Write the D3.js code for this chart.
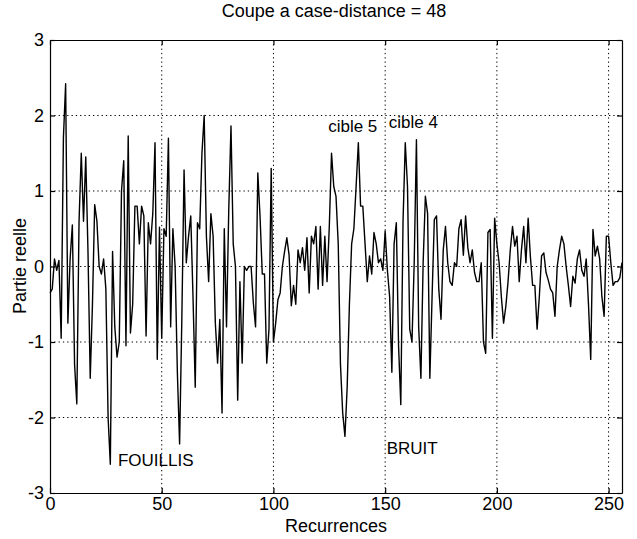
<!DOCTYPE html>
<html>
<head>
<meta charset="utf-8">
<script src="https://cdn.jsdelivr.net/npm/d3@7"></script>
<style>
  body { margin: 0; background: #fff; }
  text { font-family: "Liberation Sans", Arial, Helvetica, sans-serif; fill: #000; }
</style>
</head>
<body>
<svg id="chart" width="637" height="539"></svg>
<script>
const title = "Coupe a case-distance = 48";
const xLabel = "Recurrences";
const yLabel = "Partie reelle";
const xTicks = [0, 50, 100, 150, 200, 250];
const yTicks = [-3, -2, -1, 0, 1, 2, 3];
const annotations = [
  { text: "cible 5", x: 124.5, y: 1.84 },
  { text: "cible 4", x: 151.6, y: 1.9 },
  { text: "FOUILLIS", x: 30.4, y: -2.58 },
  { text: "BRUIT", x: 150.7, y: -2.42 }
];
const values = [
  -0.35, -0.3, 0.1, -0.05, 0.08, -0.95, 1.7, 2.42, -0.75, 0.1,
  0.55, -1.3, -1.82, 0.6, 1.5, 0.6, 1.45, 0.2, -1.48, -0.5,
  0.82, 0.6, 0.0, -0.1, 0.1, -0.3, -2.0, -2.62, 0.2, -0.8,
  -1.2, -1.0, 1.0, 1.4, -1.05, 1.73, -0.88, -0.5, 0.8, 0.8,
  0.3, 0.8, 0.67, -0.92, 0.58, 0.3, 0.7, 1.64, -1.23, 0.52,
  -0.95, 0.5, 0.4, 1.7, -0.8, 0.5, 0.0, -1.4, -2.35, -0.7,
  1.28, 0.05, 0.4, 0.67, -0.4, -1.6, 0.58, 0.5, 1.5, 2.0,
  0.4, -0.2, 0.7, 0.4, -0.75, -1.28, -0.7, -1.94, 0.5, -0.8,
  0.75, 1.86, 0.3, 0.0, -1.77, -0.2, -1.28, 0.0, -0.05, 0.0,
  0.0, -0.48, -0.8, 1.24, 0.67, -0.1, -0.1, -1.28, -0.83, 1.3,
  -1.0, -0.75, -0.44, -0.35, 0.0, 0.2, 0.38, 0.15, -0.52, -0.25,
  -0.5, 0.22, 0.05, 0.25, -0.05, 0.38, -0.35, 0.4, 0.3, 0.53,
  -0.3, 0.53, -0.25, 0.4, -0.2, 0.53, 1.5, 1.06, 0.93, 0.3,
  -1.3, -1.94, -2.25, -1.6, -0.5, 0.3, 0.5, 1.06, 1.64, 0.8,
  0.8, 0.3, -0.2, 0.14, -0.1, 0.45, 0.3, 0.05, 0.1, -0.05,
  0.47, -0.05, -0.4, -1.4, 0.3, 0.58, -1.05, -1.83, 0.6, 1.64,
  1.06, -0.83, -1.0, 0.05, 1.68, -0.8, -1.48, 0.05, 0.93, 0.7,
  -1.48, -0.4, 0.62, 0.67, -0.3, -0.7, 0.22, 0.53, 0.05, -0.2,
  -0.25, 0.05, 0.0, 0.5, 0.62, 0.15, 0.67, 0.25, 0.05, 0.22,
  -0.08, -0.2, -0.2, 0.05, -1.0, -1.15, 0.45, 0.49, -0.95, 0.64,
  0.3, 0.05, -0.4, -0.75, -0.53, -0.2, 0.22, 0.53, 0.27, 0.4,
  -0.2, 0.22, 0.53, 0.05, 0.64, 0.13, -0.25, -0.25, -0.83, -0.4,
  0.14, 0.18, -0.08, -0.18, -0.3, -0.35, -0.66, 0.0, 0.22, 0.4,
  0.3, 0.0, -0.25, -0.53, -0.13, -0.22, 0.1, 0.22, -0.05, -0.13,
  0.1, -0.5, -1.23, 0.49, 0.14, 0.27, 0.1, -0.4, -0.66, 0.4,
  0.4, 0.05, -0.25, -0.2, -0.2, -0.15, 0.05
];

const svg = d3.select("#chart");
const L = 50, R = 622, T = 40, B = 493;
const x = d3.scaleLinear().domain([0, 256]).range([L, R]);
const y = d3.scaleLinear().domain([-3, 3]).range([B, T]);
const fs = 18;
const fmt = d => String(d);

// grid
const grid = svg.append("g").attr("stroke", "#000").attr("stroke-width", 1)
  .attr("stroke-dasharray", "1.3,3");
grid.selectAll(".gx").data(xTicks.filter(d => d > 0)).enter().append("line")
  .attr("x1", d => x(d)).attr("x2", d => x(d)).attr("y1", T).attr("y2", B);
grid.selectAll(".gy").data(yTicks.filter(d => d > -3 && d < 3)).enter().append("line")
  .attr("y1", d => y(d)).attr("y2", d => y(d)).attr("x1", L).attr("x2", R);

// axes with inward ticks
const axB = svg.append("g").attr("transform", `translate(0,${B})`)
  .call(d3.axisBottom(x).tickValues(xTicks).tickFormat(fmt).tickSizeInner(-5).tickSizeOuter(0).tickPadding(4));
const axT = svg.append("g").attr("transform", `translate(0,${T})`)
  .call(d3.axisTop(x).tickValues(xTicks).tickSizeInner(-5).tickSizeOuter(0).tickFormat(""));
const axL = svg.append("g").attr("transform", `translate(${L},0)`)
  .call(d3.axisLeft(y).tickValues(yTicks).tickFormat(fmt).tickSizeInner(-5).tickSizeOuter(0).tickPadding(6));
const axR = svg.append("g").attr("transform", `translate(${R},0)`)
  .call(d3.axisRight(y).tickValues(yTicks).tickSizeInner(-5).tickSizeOuter(0).tickFormat(""));
[axB, axT, axL, axR].forEach(a => {
  a.selectAll("path, line").attr("stroke", "#000").attr("stroke-width", 1.2);
  a.selectAll("text").attr("font-size", fs).attr("font-family", "Liberation Sans, Arial, sans-serif").attr("fill", "#000");
});

// signal
const line = d3.line().x((d, i) => x(i)).y(d => y(d));
svg.append("path").datum(values).attr("d", line)
  .attr("fill", "none").attr("stroke", "#000").attr("stroke-width", 1.4)
  .attr("stroke-linejoin", "round");

// annotations
svg.selectAll(".ann").data(annotations).enter().append("text")
  .attr("x", d => x(d.x)).attr("y", d => y(d.y)).attr("font-size", 17)
  .attr("dominant-baseline", "middle").text(d => d.text);

// titles
svg.append("text").attr("x", 334).attr("y", 17).attr("text-anchor", "middle")
  .attr("font-size", fs).text(title);
svg.append("text").attr("x", 336).attr("y", 532).attr("text-anchor", "middle")
  .attr("font-size", fs).text(xLabel);
svg.append("text").attr("transform", "translate(26,266) rotate(-90)")
  .attr("text-anchor", "middle").attr("font-size", fs).text(yLabel);
</script>
</body>
</html>
